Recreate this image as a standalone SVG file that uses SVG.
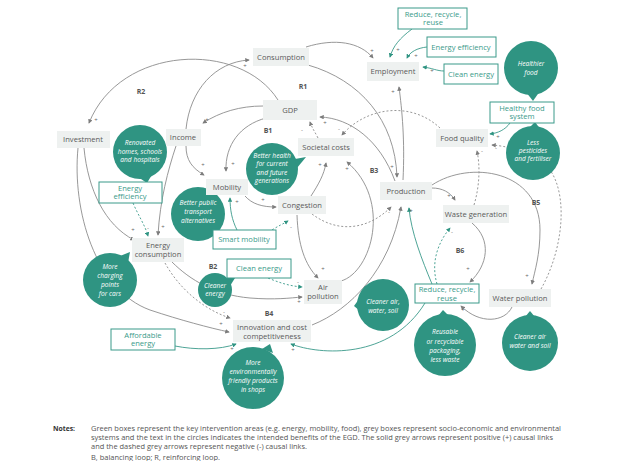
<svg xmlns="http://www.w3.org/2000/svg" width="630" height="461" viewBox="0 0 630 461">
<defs>
<marker id="ag" viewBox="0 0 6 6" refX="5" refY="3" markerWidth="4.5" markerHeight="4.5" markerUnits="userSpaceOnUse" orient="auto"><path d="M0,0 L6,3 L0,6 z" fill="#7d7d7d"/></marker>
<marker id="at" viewBox="0 0 6 6" refX="5" refY="3" markerWidth="4.5" markerHeight="4.5" markerUnits="userSpaceOnUse" orient="auto"><path d="M0,0 L6,3 L0,6 z" fill="#2f9482"/></marker>
<style>
text{font-family:"Open Sans","Liberation Sans",sans-serif;text-anchor:middle}
.node rect{fill:#eef1f0}
.node text{font-size:7.6px;fill:#5a5a5a}
.gbox rect{fill:#fff;stroke:#3a9a8a;stroke-width:1}
.gbox text{font-size:7.6px;fill:#3a9a8a}
.bub circle,.bub path{fill:#2f9482}
.bub text{font-size:6.6px;fill:#fff;font-style:italic}
.c{fill:none;stroke:#8c8c8c;stroke-width:0.9;marker-end:url(#ag)}
.t{fill:none;stroke:#3a9a8a;stroke-width:0.9;marker-end:url(#at)}
.d{stroke-dasharray:2 2}
.loop{font-size:7px;font-weight:bold;fill:#555}
.sg{font-size:6px;fill:#666}
.notes{font-size:6.8px;fill:#555;text-anchor:start}
</style>
</defs>
<rect width="630" height="461" fill="#fff"/>
<g id="connectors">
<path class="c" d="M278,100 C240,40 120,45 89,123"/>
<path class="c" d="M186,129 C190,90 215,62 249,60"/>
<path class="c" d="M306,47 C335,38 360,42 373,58"/>
<path class="c" d="M308,65 C360,80 395,120 397,177"/>
<path class="c" d="M403,180 C405,140 402,110 399,87"/>
<path class="c" d="M263,106 C240,106 220,112 203,123"/>
<path class="c" d="M266,118 C240,125 225,145 226,171"/>
<path class="c" d="M186,146 C186,160 192,168 204,175"/>
<path class="c" d="M176,146 C168,170 160,200 158,235"/>
<path class="c" d="M84,148 C88,190 105,225 134,240"/>
<path class="c" d="M78,148 C72,210 95,290 150,310 C180,320 210,328 229,332"/>
<path class="t d" d="M133,203 C138,215 145,225 148,236"/>
<path class="c d" d="M165,263 C180,290 205,310 230,318"/>
<path class="c" d="M172,262 C190,280 215,295 250,298 C275,300 290,298 302,297"/>
<path class="t d" d="M268,278 C280,283 290,286 302,287"/>
<path class="c" d="M297,215 C298,245 305,265 318,278"/>
<path class="c" d="M311,196 C318,185 324,175 326,163"/>
<path class="c" d="M341,281 C372,272 392,200 347,162"/>
<path class="c d" d="M318,138 C315,132 312,128 310,122"/>
<path class="c" d="M395,181 C380,140 350,118 320,117"/>
<path class="c d" d="M440,128 C410,100 365,108 342,135"/>
<path class="c d" d="M312,214 C340,235 370,228 391,207"/>
<path class="c" d="M312,325 C350,310 390,270 401,207"/>
<path class="t" d="M432,284 C422,260 411,232 409,208"/>
<path class="c" d="M432,188 C442,188 450,192 455,200"/>
<path class="c" d="M432,185 C470,160 540,170 540,230 C540,255 535,270 532,284"/>
<path class="c" d="M472,223 C492,240 488,265 470,282"/>
<path class="t d" d="M437,284 C430,260 440,240 450,228"/>
<path class="c" d="M512,307 C505,322 480,325 461,306"/>
<path class="c d" d="M541,289 C566,245 570,180 540,160 C525,150 505,146 492,145"/>
<path class="c d" d="M474,205 C480,185 480,165 477,151"/>
<path class="t" d="M510,123 C505,130 498,133 490,134"/>
<path class="t" d="M412,29 C400,38 393,46 390,57"/>
<path class="t" d="M427,47 C417,48 410,52 407,58"/>
<path class="t" d="M444,71 C437,71 432,68 423,67"/>
<path class="t" d="M237,230 C232,220 230,210 230,198"/>
<path class="t d" d="M272,230 C278,226 283,224 288,221"/>
<path class="c" d="M245,196 C252,204 262,207 276,207"/>
<path class="t" d="M175,346 C195,350 220,350 236,344"/>
<path class="t" d="M425,303 C390,360 320,355 291,344"/>
<g class="sg">
<text x="96" y="122">+</text><text x="245" y="68">+</text><text x="372" y="53">+</text><text x="398" y="52">+</text>
<text x="416" y="58">+</text><text x="432" y="73">+</text><text x="393" y="94">+</text><text x="207" y="122">+</text>
<text x="233" y="166">+</text><text x="203" y="167">+</text><text x="237" y="204">+</text><text x="133" y="232">+</text>
<text x="148" y="230">-</text><text x="163" y="229">+</text><text x="263" y="202">+</text><text x="291" y="229">-</text>
<text x="320" y="167">+</text><text x="347" y="171">+</text><text x="302" y="132">-</text><text x="325" y="125">+</text>
<text x="339" y="131">-</text><text x="392" y="169">+</text><text x="389" y="214">-</text><text x="411" y="213">+</text>
<text x="449" y="198">+</text><text x="498" y="139">+</text><text x="496" y="150">-</text><text x="482" y="153">-</text>
<text x="323" y="271">+</text><text x="298" y="284">-</text><text x="299" y="304">+</text><text x="224" y="314">-</text>
<text x="221" y="326">+</text><text x="232" y="351">+</text><text x="293" y="352">+</text><text x="468" y="271">+</text>
<text x="452" y="234">-</text><text x="463" y="312">+</text><text x="527" y="278">+</text>
</g>
</g>
<g id="bubbles">
<g id="b-healthier" class="bub"><circle cx="531" cy="68" r="27"/><path d="M526,92 L533,101 L540,91 z"/><text x="531" y="66">Healthier</text><text x="531" y="75">food</text></g>
<g id="b-pesticides" class="bub"><circle cx="533" cy="153" r="27"/><path d="M527,130 L535,122 L541,130 z"/><text x="533" y="145">Less</text><text x="533" y="153">pesticides</text><text x="533" y="161">and fertiliser</text></g>
<g id="b-renovated" class="bub"><circle cx="140" cy="152" r="27"/><path d="M138,177 L147,183 L153,173 z"/><text x="140" y="145">Renovated</text><text x="140" y="153.5">homes, schools</text><text x="140" y="162">and hospitals</text></g>
<g id="b-health" class="bub"><circle cx="272" cy="169" r="26"/><path d="M295,159 L306,157 L297,168 z"/><text x="272" y="157.5">Better health</text><text x="272" y="166">for current</text><text x="272" y="174.5">and future</text><text x="272" y="183">generations</text></g>
<g id="b-transport" class="bub"><circle cx="198" cy="214" r="27"/><path d="M212,235 L223,239 L219,229 z"/><text x="198" y="205">Better public</text><text x="198" y="214">transport</text><text x="198" y="223">alternatives</text></g>
<g id="b-charging" class="bub"><circle cx="110" cy="280" r="27"/><path d="M120,256 L130,252 L128,263 z"/><text x="110" y="269">More</text><text x="110" y="278">charging</text><text x="110" y="287">points</text><text x="110" y="296">for cars</text></g>
<g id="b-cleanerenergy" class="bub"><circle cx="215" cy="290" r="17"/><path d="M226,278 L235,278 L230,286 z"/><text x="215" y="288">Cleaner</text><text x="215" y="296">energy</text></g>
<g id="b-cleanair1" class="bub"><circle cx="383" cy="305" r="26"/><path d="M359,299 L354,306 L360,311 z"/><text x="383" y="304">Cleaner air,</text><text x="383" y="313">water, soil</text></g>
<g id="b-products" class="bub"><circle cx="253" cy="378" r="31"/><path d="M262,349 L270,344 L273,353 z"/><text x="253" y="365">More</text><text x="253" y="374">environmentally</text><text x="253" y="383">friendly products</text><text x="253" y="391.5">in shops</text></g>
<g id="b-packaging" class="bub"><circle cx="445" cy="345" r="31"/><path d="M438,316 L443,310 L449,316 z"/><text x="445" y="334">Reusable</text><text x="445" y="343.5">or recyclable</text><text x="445" y="352.5">packaging,</text><text x="445" y="361.5">less waste</text></g>
<g id="b-cleanair2" class="bub"><circle cx="530" cy="343" r="28"/><path d="M525,317 L530,311 L535,317 z"/><text x="530" y="339">Cleaner air</text><text x="530" y="348">water and soil</text></g>
</g>
<g id="n-consumption" class="node"><rect x="253" y="48" width="56" height="18"/><text x="281" y="60">Consumption</text></g>
<g id="n-employment" class="node"><rect x="367" y="62" width="52" height="19"/><text x="393" y="74">Employment</text></g>
<g id="n-gdp" class="node"><rect x="263" y="100" width="54" height="20"/><text x="290" y="113">GDP</text></g>
<g id="n-societal" class="node"><rect x="298" y="138" width="56" height="18"/><text x="326" y="150">Societal costs</text></g>
<g id="n-investment" class="node"><rect x="57" y="131" width="53" height="17"/><text x="83" y="142">Investment</text></g>
<g id="n-income" class="node"><rect x="166" y="129" width="35" height="17"/><text x="183" y="140">Income</text></g>
<g id="n-mobility" class="node"><rect x="206" y="179" width="42" height="16"/><text x="227" y="190">Mobility</text></g>
<g id="n-congestion" class="node"><rect x="278" y="196" width="48" height="18"/><text x="302" y="208">Congestion</text></g>
<g id="n-energycons" class="node"><rect x="132" y="238" width="52" height="24"/><text x="158" y="247.5">Energy</text><text x="158" y="256.5">consumption</text></g>
<g id="n-air" class="node"><rect x="304" y="280" width="38" height="24"/><text x="323" y="289.5">Air</text><text x="323" y="298.5">pollution</text></g>
<g id="n-innovation" class="node"><rect x="233" y="320" width="78" height="22"/><text x="272" y="329.5">Innovation and cost</text><text x="272" y="338.5">competitiveness</text></g>
<g id="n-production" class="node"><rect x="380" y="182" width="52" height="18"/><text x="406" y="194">Production</text></g>
<g id="n-waste" class="node"><rect x="443" y="205" width="66" height="18"/><text x="476" y="217">Waste generation</text></g>
<g id="n-food" class="node"><rect x="436" y="129" width="52" height="18"/><text x="462" y="141">Food quality</text></g>
<g id="n-water" class="node"><rect x="489" y="289" width="62" height="18"/><text x="520" y="301">Water pollution</text></g>
<g id="g-reduce1" class="gbox"><rect x="398" y="8" width="69" height="21"/><text x="433" y="16.5">Reduce, recycle,</text><text x="433" y="25">reuse</text></g>
<g id="g-effic1" class="gbox"><rect x="427" y="37" width="69" height="20"/><text x="461" y="50">Energy efficiency</text></g>
<g id="g-clean1" class="gbox"><rect x="444" y="64" width="54" height="20"/><text x="471" y="77">Clean energy</text></g>
<g id="g-food" class="gbox"><rect x="490" y="102" width="64" height="21"/><text x="522" y="110.5">Healthy food</text><text x="522" y="119">system</text></g>
<g id="g-effic2" class="gbox"><rect x="99" y="182" width="63" height="21"/><text x="130" y="190.5">Energy</text><text x="130" y="199">efficiency</text></g>
<g id="g-smart" class="gbox"><rect x="213" y="230" width="63" height="19"/><text x="244" y="242">Smart mobility</text></g>
<g id="g-clean2" class="gbox"><rect x="227" y="259" width="64" height="19"/><text x="259" y="271">Clean energy</text></g>
<g id="g-reduce2" class="gbox"><rect x="415" y="284" width="64" height="19"/><text x="447" y="292">Reduce, recycle,</text><text x="447" y="300.5">reuse</text></g>
<g id="g-afford" class="gbox"><rect x="111" y="329" width="64" height="21"/><text x="143" y="337.5">Affordable</text><text x="143" y="346">energy</text></g>
<g id="loops" class="loop">
<text x="141" y="94">R2</text><text x="303" y="89">R1</text><text x="268" y="133">B1</text><text x="374" y="173">B3</text>
<text x="213" y="269">B2</text><text x="269" y="316">B4</text><text x="536" y="205">B5</text><text x="460" y="253">B6</text>
</g>
<g id="notes">
<text x="53" y="431" class="notes" style="font-weight:bold;fill:#333">Notes:</text>
<text x="91" y="431" class="notes" textLength="470" lengthAdjust="spacingAndGlyphs">Green boxes represent the key intervention areas (e.g. energy, mobility, food), grey boxes represent socio-economic and environmental</text>
<text x="91" y="439.5" class="notes" textLength="462" lengthAdjust="spacingAndGlyphs">systems and the text in the circles indicates the intended benefits of the EGD. The solid grey arrows represent positive (+) causal links</text>
<text x="91" y="448.5" class="notes" textLength="216" lengthAdjust="spacingAndGlyphs">and the dashed grey arrows represent negative (-) causal links.</text>
<text x="91" y="459.5" class="notes" textLength="129" lengthAdjust="spacingAndGlyphs">B, balancing loop; R, reinforcing loop.</text>
</g>
</svg>
